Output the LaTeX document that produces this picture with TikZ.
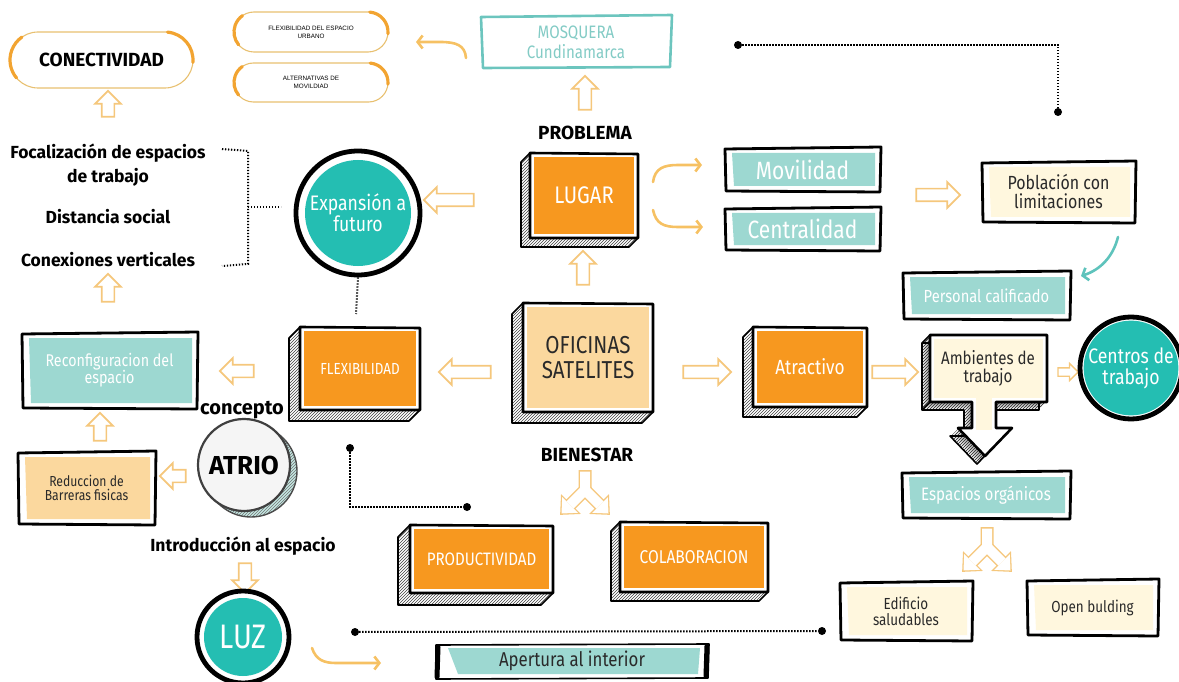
\documentclass[tikz,border=0pt]{standalone}
\usepackage{fontspec}
\usetikzlibrary{shapes.arrows,arrows.meta,patterns,calc}
\setmainfont{Fira Sans}
\newfontfamily\condf[FakeStretch=0.84]{Fira Sans}
\newfontfamily\headf{Fira Sans}
\newfontfamily\smallf{Liberation Sans}

\definecolor{orng}{HTML}{F7981F}
\definecolor{tealc}{HTML}{24BEB2}
\definecolor{tealbox}{HTML}{9DD8D1}
\definecolor{cream}{HTML}{FFF7DE}
\definecolor{wheat}{HTML}{FBD89E}
\definecolor{arrc}{HTML}{F5C77C}
\definecolor{curc}{HTML}{F6C163}
\definecolor{pillc}{HTML}{E8C070}
\definecolor{pilla}{HTML}{F2A431}
\definecolor{mosq}{HTML}{6CC5BE}
\definecolor{mosqtxt}{HTML}{83CBC5}
\definecolor{darktxt}{HTML}{2A2A2A}
\definecolor{tealarr}{HTML}{5EC3BC}

\tikzset{
  harrow/.style={single arrow, draw=arrc, line width=1.7pt, fill=white,
    inner sep=5.5pt, single arrow head extend=6.5pt, minimum height=#1},
  harrow/.default=30pt,
  curvy/.style={draw=curc, line width=2.6pt, line cap=round,
    -{Straight Barb[length=5pt,width=13pt]}},
  dotline/.style={line width=2pt, dash pattern=on 1.3pt off 1.7pt},
  dotend/.style={circle, fill=black, inner sep=0pt, minimum size=8pt},
  lbl/.style={font=\headf\bfseries\fontsize{17.5}{24}\selectfont, text=black, align=center},
  caplbl/.style={font=\headf\bfseries\fontsize{19}{22}\selectfont, text=black, align=center},
  wtxt/.style={font=\condf\fontsize{#1}{#1}\selectfont, text=white, align=center},
  dtxt/.style={font=\condf\fontsize{#1}{#1}\selectfont, text=darktxt, align=center},
}

% extruded box: name, x0, y0, x1, y1, depth, fill, text style, text
\newcommand{\cubebox}[9]{%
  \fill[pattern=north east lines, pattern color=black!75]
    (#2,#3) -- (#2-#6,#3+#6) -- (#2-#6,#5+#6) -- (#4-#6,#5+#6) -- (#4,#5) -- cycle;
  \draw[line width=1.6pt, line join=round]
    (#2,#3) -- (#2-#6,#3+#6) -- (#2-#6,#5+#6) -- (#4-#6,#5+#6) -- (#4,#5);
  \fill[white] (#2,#3) rectangle (#4,#5);
  \fill[#7] (#2+4,#3+4) rectangle (#4-4,#5-4);
  \draw[line width=2.6pt, line join=round] (#2,#3) -- (#4,#3+1) -- (#4,#5) -- (#2,#5) -- cycle;
  \node[#8] (#1) at ({(#2+#4)/2},{(#3+#5)/2}) {#9};
}
% hand drawn flat box: name, x0, y0, x1, y1, fill, text style, text
\newcommand{\flatbox}[8]{%
  \fill[white] (#2,#3) rectangle (#4,#5);
  \fill[#6] (#2+7,#3+5) -- (#4-5,#3+5) -- (#4-5,#5-5) -- (#2+9,#5-5) -- cycle;
  \draw[line width=2.8pt, line join=round, line cap=round]
    (#2,#3+1) -- (#4+1,#3-1) -- (#4,#5+1) -- (#2+1,#5) -- cycle;
  \node[#7] (#1) at ({(#2+#4)/2},{(#3+#5)/2}) {#8};
}
% rounded pill: name, x0, y0, x1, y1, text style, text
\newcommand{\pill}[7]{%
  \pgfmathsetmacro\pr{(#5-#3)/2}
  \pgfmathsetmacro\pm{(#3+#5)/2}
  \draw[pillc, line width=1.1pt, rounded corners=\pr pt] (#2,#3) rectangle (#4,#5);
  \draw[pilla, line width=3.2pt, line cap=round] (#2+\pr,\pm) ++(140:\pr) arc[start angle=140, end angle=235, radius=\pr];
  \draw[pilla, line width=3.2pt, line cap=round] (#4-\pr,\pm) ++(275:\pr) arc[start angle=275, end angle=365, radius=\pr];
  \node[#6] (#1) at ({(#2+#4)/2},\pm) {#7};
}
% forked hollow arrow: name, x, y of trunk top
\newcommand{\forkarrow}[3]{%
  \begin{scope}[shift={(#2,#3)}]
    \coordinate (#1) at (0,0);
    \draw[arrc, line width=13pt, line join=miter] (0,0) -- (0,20) -- (-15,35);
    \draw[arrc, line width=13pt, line join=miter] (0,20) -- (15,35);
    \filldraw[arrc, line width=2.6pt, line join=miter] (-23.5,43.5) -- (-7.2,42.8) -- (-22.8,27.2) -- cycle;
    \filldraw[arrc, line width=2.6pt, line join=miter] (23.5,43.5) -- (7.2,42.8) -- (22.8,27.2) -- cycle;
    \draw[white, line width=10pt, line join=miter] (0,1.5) -- (0,20) -- (-15,35);
    \draw[white, line width=10pt, line join=miter] (0,20) -- (15,35);
    \fill[white] (-23.5,43.5) -- (-7.2,42.8) -- (-22.8,27.2) -- cycle;
    \fill[white] (23.5,43.5) -- (7.2,42.8) -- (22.8,27.2) -- cycle;
  \end{scope}
}

\begin{document}
\begin{tikzpicture}[x=1pt,y=-1pt]
\useasboundingbox (0,0) rectangle (1179,682);

% ---------- top row ----------
\pill{conect}{10}{32}{193}{88}{font=\headf\bfseries\fontsize{19}{19}\selectfont}{CONECTIVIDAD}
\pill{flexurb}{234}{12}{388}{52}{font=\smallf\fontsize{6.3}{8}\selectfont, align=center}{FLEXIBILIDAD DEL ESPACIO\\URBANO}
\pill{altmov}{234}{63}{388}{102}{font=\smallf\fontsize{6.3}{8}\selectfont, align=center}{ALTERNATIVAS DE\\MOVILDIAD}

\draw[mosq, line width=2.6pt, line join=round] (481,17) -- (672,15) -- (670,67) -- (483,68) -- cycle;
\node[font=\condf\fontsize{18}{20}\selectfont, text=mosqtxt, align=center] (mosq) at (576,42) {MOSQUERA\\Cundinamarca};
\draw[curvy] (466,58) .. controls (465,45) and (456,42) .. (440,42) -- (416,42);

\node[dotend] (dt1) at (738,45) {};
\node[dotend] (dt2) at (1058,112) {};
\coordinate (dt1c) at (1058,45);
\draw[dotline] (dt1) -- (dt1c) -- (dt2);

\node[caplbl] (problema) at (585,133) {PROBLEMA};
\node[harrow=34pt, shape border rotate=90] (hprob) at (585,96) {};

% ---------- problem branch ----------
\cubebox{lugar}{530}{153}{638}{238}{9}{orng}{wtxt=24}{LUGAR}
\flatbox{movil}{725}{148}{880}{191}{tealbox}{wtxt=25}{Movilidad}
\flatbox{central}{725}{208}{880}{250}{tealbox}{wtxt=25}{Centralidad}
\draw[curvy] (653,182) .. controls (655,168) and (664,165) .. (678,165) -- (702,165);
\draw[curvy] (653,210) .. controls (656,224) and (664,227) .. (678,227) -- (703,227);
\node[harrow=44pt] (hpob) at (935,195) {};
\flatbox{pobl}{982}{162}{1135}{222}{cream}{dtxt=19}{Población con\\limitaciones}
\draw[tealarr, line width=2.6pt, line cap=round, -{Straight Barb[length=5pt,width=13pt]}]
  (1118,237) .. controls (1113,257) and (1100,270) .. (1081,276);
\flatbox{pers}{903}{272}{1070}{319}{tealbox}{wtxt=17.5}{Personal calificado}

% ---------- left column ----------
\node[harrow=26pt, shape border rotate=90] (hcon) at (108,107) {};
\node[lbl] (foc) at (108,165) {Focalización de espacios\\de trabajo};
\node[lbl] (dist) at (108,217) {Distancia social};
\node[lbl] (conv) at (108,260) {Conexiones verticales};
\coordinate (br1) at (222,149);
\coordinate (br2) at (248,151);
\coordinate (br3) at (248,264);
\coordinate (br4) at (222,266);
\coordinate (br5) at (248,207);
\coordinate (br6) at (281,207);
\draw[dotline] (br1) -- (br2) -- (br3) -- (br4);
\draw[dotline] (br5) -- (br6);
\node[harrow=28pt, shape border rotate=90] (hconv) at (108,291) {};

\node[circle, draw=black, line width=4.8pt, fill=white, minimum size=124pt, inner sep=0pt] (expring) at (358,213) {};
\node[circle, fill=tealc, minimum size=106pt, inner sep=0pt, wtxt=21] (exp) at (358,213) {Expansión a\\futuro};
\node[harrow=50pt, shape border rotate=180] (hexp) at (452,200) {};
\coordinate (expdot) at (356,314);
\draw[dotline] (expring.south) -- (expdot);

\node[harrow=34pt, shape border rotate=90] (hofi) at (583,271) {};

% ---------- middle row ----------
\flatbox{reconf}{22}{333}{197}{408}{tealbox}{wtxt=17}{Reconfiguracion del\\espacio}
\node[harrow=34pt, shape border rotate=180] (hreconf) at (240,371) {};
\cubebox{flex}{300}{327}{420}{410}{11}{orng}{wtxt=16}{FLEXIBILIDAD}
\node[harrow=52pt, shape border rotate=180] (hflex) at (468,372) {};
\cubebox{ofi}{523}{303}{653}{412}{11}{wheat}{dtxt=24.5}{OFICINAS\\SATELITES}
\node[harrow=48pt] (hatr) at (704,372) {};
\cubebox{atr}{753}{327}{867}{407}{10}{orng}{wtxt=20.5}{Atractivo}
\node[harrow=46pt] (hamb) at (892,372) {};

% work environment box with its downward arrow
\foreach \i in {1,...,8}{
  \fill[pattern=north east lines, pattern color=black!75, shift={(-\i,\i)}]
    (930,335) -- (1047,335) -- (1047,402) -- (996,402) -- (996,428) -- (1012,428)
    -- (985,456) -- (958,428) -- (972,428) -- (972,402) -- (930,402) -- cycle;
}
\draw[line width=1.6pt, line join=round, shift={(-8,8)}]
    (930,335) -- (1047,335) -- (1047,402) -- (996,402) -- (996,428) -- (1012,428)
    -- (985,456) -- (958,428) -- (972,428) -- (972,402) -- (930,402) -- cycle;
\draw[line width=1.6pt] (930,335) -- (922,343) (930,402) -- (922,410);
\fill[white] (930,335) -- (1047,335) -- (1047,402) -- (996,402) -- (996,428) -- (1012,428)
    -- (985,456) -- (958,428) -- (972,428) -- (972,402) -- (930,402) -- cycle;
\fill[cream] (934,339) rectangle (1043,398);
\fill[cream] (976,398) rectangle (992,430);
\draw[line width=2.6pt, line join=round]
    (930,335) -- (1047,335) -- (1047,402) -- (996,402) -- (996,428) -- (1012,428)
    -- (985,456) -- (958,428) -- (972,428) -- (972,402) -- (930,402) -- cycle;
\node[dtxt=18] (amb) at (988,368) {Ambientes de\\trabajo};

\node[harrow=20pt, inner sep=3.5pt, single arrow head extend=4.5pt, line width=1.3pt] (hcen) at (1066,372) {};
\node[circle, draw=black, line width=4.8pt, fill=white, minimum size=102pt, inner sep=0pt] (cenring) at (1131,368) {};
\node[circle, fill=tealc, minimum size=86pt, inner sep=0pt, wtxt=21] (cen) at (1131,368) {Centros de\\trabajo};

% ---------- lower left ----------
\node[lbl, font=\headf\bfseries\fontsize{20}{22}\selectfont] (concepto) at (242,410) {concepto};
\node[harrow=28pt, shape border rotate=90] (hred) at (100,430) {};
\flatbox{red}{18}{452}{155}{524}{wheat}{dtxt=14.5}{Reduccion de\\Barreras fisicas}
\node[harrow=26pt, shape border rotate=180] (hatrio) at (176,476) {};
\fill[tealbox!60] (251,471) circle[radius=46];
\fill[pattern=north east lines, pattern color=black!55] (251,471) circle[radius=46];
\draw[black!70, line width=1.4pt] (251,471) circle[radius=46];
\node[circle, draw=black!75, line width=2.2pt, fill=gray!8, minimum size=92pt, inner sep=0pt,
  font=\headf\bfseries\fontsize{26}{26}\selectfont] (atrio) at (244,465) {ATRIO};
\node[lbl] (intro) at (243,546) {Introducción al espacio};
\node[harrow=30pt, shape border rotate=270] (hluz) at (245,575) {};
\node[circle, draw=black, line width=4.8pt, fill=white, minimum size=92pt, inner sep=0pt] (luzring) at (243,637) {};
\node[circle, fill=tealc, minimum size=78pt, inner sep=0pt, wtxt=34] (luz) at (243,637) {LUZ};

\node[dotend] (df1) at (350,448) {};
\node[dotend] (df2) at (467,507) {};
\coordinate (dfc) at (350,507);
\draw[dotline] (df1) -- (dfc) -- (df2);

% ---------- wellbeing ----------
\node[caplbl] (bien) at (587,455) {BIENESTAR};
\forkarrow{fork1}{585}{470}
\cubebox{prod}{410}{525}{553}{593}{12}{orng}{wtxt=18}{PRODUCTIVIDAD}
\cubebox{colab}{620}{522}{768}{592}{9}{orng}{wtxt=18.5}{COLABORACION}

\node[dotend] (dl1) at (355,632) {};
\node[dotend] (dl2) at (822,631) {};
\draw[dotline] (dl1) -- (dl2);
\draw[curvy] (312,648) .. controls (316,660) and (324,663) .. (336,663) -- (381,663);

\fill[white] (434,644) rectangle (710,678);
\fill[tealbox] (448,648) -- (700,648) -- (698,674) -- (458,674) -- cycle;
\draw[line width=1.6pt, line join=round] (436,645) -- (709,644) -- (708,678) -- (436,679) -- cycle;
\draw[line width=5pt, line cap=round] (438,647) -- (437,677);
\draw[line width=5pt, line cap=round] (707,646) -- (706,676);
\node[dtxt=20] (apert) at (572,661) {Apertura al interior};

% ---------- lower right ----------
\flatbox{esp}{902}{472}{1070}{518}{tealbox}{wtxt=18}{Espacios orgánicos}
\forkarrow{fork2}{987}{527}
\flatbox{edif}{840}{582}{972}{640}{cream}{dtxt=16}{Edificio\\saludables}
\flatbox{open}{1027}{580}{1158}{635}{cream}{dtxt=16}{Open bulding}

\end{tikzpicture}
\end{document}
